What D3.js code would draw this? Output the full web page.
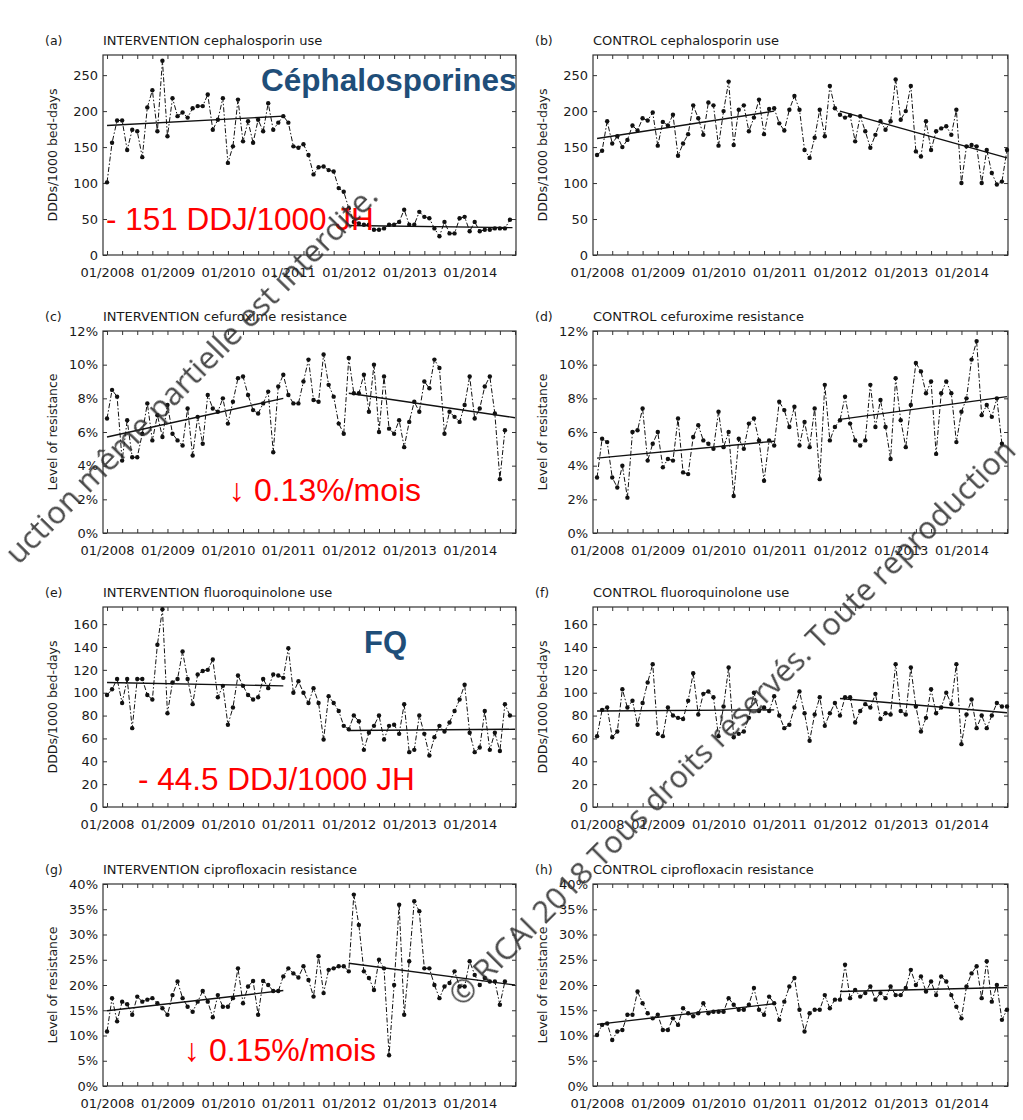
<!DOCTYPE html>
<html>
<head>
<meta charset="utf-8">
<script src="https://cdn.jsdelivr.net/npm/d3@7"></script>
<style>
  body { margin: 0; background: #fff; }
  text { font-family: "DejaVu Sans", sans-serif; fill: #1a1a1a; }
</style>
</head>
<body>
<svg id="chart" width="1023" height="1120"></svg>
<script>
// x axis: one point per month from 01/2008, labels at each January
var yearLabels = ["01/2008", "01/2009", "01/2010", "01/2011", "01/2012", "01/2013", "01/2014"];

var useTicks = [0, 50, 100, 150, 200, 250];
var cefTicks = [0, 2, 4, 6, 8, 10, 12];
var fqTicks = [0, 20, 40, 60, 80, 100, 120, 140, 160];
var ciproTicks = [0, 5, 10, 15, 20, 25, 30, 35, 40];

// monthly values
var interCephUse = [101, 156, 187, 187, 146, 174, 172, 136, 205, 229, 172, 270, 165, 218, 193, 198, 191, 204, 207, 207,
    223, 174, 188, 218, 128, 151, 216, 158, 186, 156, 188, 172, 211, 174, 184, 193, 184, 151, 149, 154,
    139, 112, 122, 123, 118, 116, 93, 88, 65, 46, 44, 42, 42, 35, 35, 37, 42, 42, 46, 63,
    42, 42, 60, 53, 51, 37, 26, 46, 30, 30, 51, 53, 33, 46, 33, 35, 35, 37, 37, 37, 49];
var ctrlCephUse = [139, 145, 186, 155, 165, 150, 160, 180, 173, 190, 187, 198, 152, 185, 180, 195, 138, 155, 168, 208,
    190, 167, 212, 208, 152, 200, 241, 153, 202, 208, 172, 191, 216, 168, 203, 204, 183, 173, 202, 221,
    202, 146, 135, 163, 202, 165, 235, 204, 195, 191, 194, 158, 193, 172, 149, 167, 186, 174, 186, 244,
    188, 200, 235, 144, 137, 186, 146, 172, 176, 179, 167, 202, 100, 151, 153, 151, 100, 146, 114, 98, 102, 146];
var interCefRes = [6.8, 8.5, 8.1, 4.3, 6.7, 4.5, 4.5, 5.9, 7.7, 5.5, 7.0, 5.7, 7.6, 5.9, 5.5, 5.2, 7.4, 4.6, 6.9, 5.3,
    8.2, 7.4, 7.2, 8.0, 6.5, 7.8, 9.2, 9.3, 8.2, 7.3, 7.1, 7.7, 8.4, 4.8, 8.7, 9.4, 8.2, 7.7, 7.7, 9.0,
    10.3, 7.9, 7.8, 10.6, 8.8, 8.1, 6.5, 5.9, 10.4, 8.3, 8.3, 9.4, 7.2, 10.0, 6.0, 9.3, 6.2, 5.9, 6.7, 5.1,
    6.6, 7.8, 7.2, 9.0, 8.6, 10.3, 9.8, 5.9, 7.2, 6.9, 6.6, 7.6, 9.3, 6.8, 7.4, 8.7, 9.3, 7.1, 3.2, 6.1];
var ctrlCefRes = [3.3, 5.6, 5.4, 3.3, 2.7, 4.0, 2.1, 6.0, 6.1, 7.4, 4.3, 5.3, 6.0, 3.9, 4.4, 4.3, 6.8, 3.6, 3.5, 5.7,
    6.4, 5.5, 5.3, 5.0, 7.2, 5.1, 6.0, 2.2, 5.6, 5.0, 6.5, 6.8, 5.5, 3.1, 5.5, 5.2, 7.8, 7.3, 6.3, 7.5,
    5.2, 6.6, 5.1, 7.4, 3.2, 8.8, 5.5, 6.3, 6.7, 8.1, 6.5, 5.5, 5.2, 5.5, 8.8, 6.3, 7.9, 6.3, 4.4, 9.2,
    6.7, 5.1, 7.6, 10.1, 9.6, 8.3, 9.0, 4.7, 8.3, 9.0, 8.3, 5.4, 7.2, 8.0, 10.3, 11.4, 7.0, 7.6, 6.9, 8.0, 5.3];
var interFqUse = [98, 103, 112, 91, 112, 69, 112, 112, 98, 94, 142, 173, 82, 109, 112, 136, 112, 90, 116, 119,
    120, 129, 96, 106, 72, 87, 115, 106, 98, 94, 96, 112, 104, 116, 115, 113, 139, 100, 110, 100,
    91, 104, 91, 59, 97, 91, 84, 71, 68, 80, 75, 50, 65, 71, 80, 59, 71, 72, 64, 90,
    48, 50, 80, 64, 45, 61, 71, 66, 74, 84, 94, 107, 65, 48, 52, 84, 50, 65, 49, 90, 80];
var ctrlFqUse = [62, 85, 87, 61, 66, 103, 87, 93, 72, 91, 109, 125, 64, 62, 87, 80, 78, 77, 93, 117,
    81, 99, 101, 96, 62, 88, 122, 61, 64, 66, 78, 100, 84, 87, 84, 97, 80, 69, 72, 87,
    101, 82, 58, 81, 96, 71, 82, 91, 80, 96, 96, 74, 84, 90, 87, 99, 77, 82, 81, 125,
    84, 81, 122, 88, 66, 78, 103, 82, 87, 100, 90, 125, 55, 81, 94, 69, 80, 69, 80, 91, 88, 88];
var interCiproRes = [10.8, 17.4, 12.8, 16.7, 16.2, 14.1, 17.7, 16.7, 17.1, 17.4, 16.4, 15.4, 14.1, 18.0, 20.7, 17.4, 15.7, 14.7, 16.7, 18.8,
    16.7, 13.6, 18.0, 15.7, 15.7, 17.4, 23.3, 16.4, 19.7, 20.8, 14.1, 20.8, 20.0, 18.8, 18.8, 21.7, 23.3, 22.3, 21.5, 23.7,
    21.0, 17.7, 25.7, 18.4, 23.0, 23.3, 23.7, 23.7, 22.7, 37.9, 31.9, 22.7, 21.4, 19.0, 25.0, 23.3, 6.1, 20.0, 35.9, 14.1,
    24.7, 36.6, 34.6, 23.3, 23.3, 20.0, 17.4, 19.7, 20.4, 22.7, 19.7, 19.7, 24.7, 22.0, 20.0, 21.4, 20.7, 20.7, 16.1, 20.7];
var ctrlCiproRes = [10.1, 12.1, 12.4, 9.1, 10.8, 11.1, 14.1, 14.1, 18.7, 16.4, 14.4, 13.4, 14.1, 11.1, 11.1, 13.4, 12.1, 15.4, 14.4, 13.8,
    14.4, 16.4, 14.4, 14.7, 14.7, 14.7, 17.4, 16.1, 15.1, 15.1, 16.1, 19.4, 15.1, 14.1, 17.7, 16.4, 13.1, 16.7, 19.7, 21.4,
    15.1, 10.8, 14.4, 15.1, 15.1, 18.0, 15.4, 17.1, 17.1, 24.0, 17.4, 19.0, 17.7, 18.4, 19.7, 17.1, 18.4, 17.4, 19.7, 18.0,
    18.0, 19.4, 23.0, 20.0, 21.7, 18.7, 20.7, 18.0, 21.7, 20.7, 18.0, 15.7, 13.4, 19.7, 22.3, 23.7, 17.4, 24.7, 16.7, 20.0, 13.1, 15.1];

// segmented regression lines: [month, value] pairs
var interCephTrend = [[[0, 180], [35, 193]], [[48, 41], [80.5, 38]]];
var ctrlCephTrend = [[[0, 162], [35, 200]], [[48, 200], [81, 135]]];
var interCefTrend = [[[0, 5.7], [35, 8.0]], [[48, 8.3], [81, 6.85]]];
var ctrlCefTrend = [[[0, 4.45], [35, 5.45]], [[48, 6.75], [81, 8.1]]];
var interFqTrend = [[[0, 109], [35, 106]], [[48, 67], [81, 68]]];
var ctrlFqTrend = [[[0, 84], [35, 85]], [[48, 95], [81, 82.5]]];
var interCiproTrend = [[[0, 14.9], [35, 18.9]], [[48, 24.3], [81, 20.0]]];
var ctrlCiproTrend = [[[0, 12.2], [35, 16.3]], [[48, 18.7], [81, 19.5]]];

var pct = function (d) { return d + "%"; };
var plain = function (d) { return d; };

var panels = [
    { tag: "(a)", title: "INTERVENTION cephalosporin use", values: interCephUse, trend: interCephTrend, yMax: 278, ticks: useTicks, fmt: plain, yLabel: "DDDs/1000 bed-days", row: 0, col: 0 },
    { tag: "(b)", title: "CONTROL cephalosporin use", values: ctrlCephUse, trend: ctrlCephTrend, yMax: 278, ticks: useTicks, fmt: plain, yLabel: "DDDs/1000 bed-days", row: 0, col: 1 },
    { tag: "(c)", title: "INTERVENTION cefuroxime resistance", values: interCefRes, trend: interCefTrend, yMax: 12, ticks: cefTicks, fmt: pct, yLabel: "Level of resistance", row: 1, col: 0 },
    { tag: "(d)", title: "CONTROL cefuroxime resistance", values: ctrlCefRes, trend: ctrlCefTrend, yMax: 12, ticks: cefTicks, fmt: pct, yLabel: "Level of resistance", row: 1, col: 1 },
    { tag: "(e)", title: "INTERVENTION fluoroquinolone use", values: interFqUse, trend: interFqTrend, yMax: 175, ticks: fqTicks, fmt: plain, yLabel: "DDDs/1000 bed-days", row: 2, col: 0 },
    { tag: "(f)", title: "CONTROL fluoroquinolone use", values: ctrlFqUse, trend: ctrlFqTrend, yMax: 175, ticks: fqTicks, fmt: plain, yLabel: "DDDs/1000 bed-days", row: 2, col: 1 },
    { tag: "(g)", title: "INTERVENTION ciprofloxacin resistance", values: interCiproRes, trend: interCiproTrend, yMax: 40, ticks: ciproTicks, fmt: pct, yLabel: "Level of resistance", row: 3, col: 0 },
    { tag: "(h)", title: "CONTROL ciprofloxacin resistance", values: ctrlCiproRes, trend: ctrlCiproTrend, yMax: 40, ticks: ciproTicks, fmt: pct, yLabel: "Level of resistance", row: 3, col: 1 }
];

var notes = [
    { text: "Céphalosporines", x: 261, y: 91, size: 31.5, weight: "bold", color: "#1f4e79" },
    { text: "- 151 DDJ/1000 JH", x: 106, y: 230, size: 31.5, weight: "normal", color: "#ff0000" },
    { text: "↓ 0.13%/mois", x: 229, y: 501, size: 32, weight: "normal", color: "#ff0000" },
    { text: "FQ", x: 364, y: 653, size: 31, weight: "bold", color: "#1f4e79" },
    { text: "- 44.5 DDJ/1000 JH", x: 138, y: 790, size: 31.5, weight: "normal", color: "#ff0000" },
    { text: "↓ 0.15%/mois", x: 184, y: 1061, size: 32, weight: "normal", color: "#ff0000" }
];

var svg = d3.select("#chart");
var colLeft = [103, 593], colWidth = [413, 415];
var rowTop = [55, 331, 607, 884], rowHeight = [200, 202, 200, 202];
var monthDomain = [-0.8, 81.2];
var quarters = d3.range(0, 82, 3);

panels.forEach(drawPanel);

function drawPanel(p) {
    var w = colWidth[p.col], h = rowHeight[p.row];
    var g = svg.append("g")
        .attr("transform", "translate(" + colLeft[p.col] + "," + rowTop[p.row] + ")");

    var x = d3.scaleLinear().domain(monthDomain).range([0, w]);
    var y = d3.scaleLinear().domain([0, p.yMax]).range([h, 0]);

    // ticks point inward on all four sides
    g.append("g")
        .attr("transform", "translate(0," + h + ")")
        .call(d3.axisBottom(x).tickValues(quarters).tickSizeInner(-4).tickSizeOuter(0).tickPadding(13)
            .tickFormat(function (m) { return m % 12 === 0 ? yearLabels[m / 12] : ""; }));
    g.append("g")
        .call(d3.axisTop(x).tickValues(quarters).tickSizeInner(-4).tickSizeOuter(0).tickFormat(""));
    g.append("g")
        .call(d3.axisLeft(y).tickValues(p.ticks).tickSizeInner(-4).tickSizeOuter(0).tickPadding(5).tickFormat(p.fmt));
    g.append("g")
        .attr("transform", "translate(" + w + ",0)")
        .call(d3.axisRight(y).tickValues(p.ticks).tickSizeInner(-4).tickSizeOuter(0).tickFormat(""));

    g.selectAll(".domain").remove();
    g.selectAll(".tick line").attr("stroke", "#333");
    g.selectAll(".tick text")
        .attr("font-family", "DejaVu Sans, sans-serif")
        .attr("font-size", 13)
        .attr("fill", "#1a1a1a");

    g.append("rect")
        .attr("width", w)
        .attr("height", h)
        .attr("fill", "none")
        .attr("stroke", "#333")
        .attr("stroke-width", 1.2);

    // monthly series
    var line = d3.line()
        .x(function (d, i) { return x(i); })
        .y(function (d) { return y(d); });
    g.append("path")
        .datum(p.values)
        .attr("d", line)
        .attr("fill", "none")
        .attr("stroke", "#111")
        .attr("stroke-width", 1)
        .attr("stroke-dasharray", "5,2,1.5,2");
    g.selectAll("circle.pt")
        .data(p.values)
        .enter()
        .append("circle")
        .attr("class", "pt")
        .attr("cx", function (d, i) { return x(i); })
        .attr("cy", function (d) { return y(d); })
        .attr("r", 2.2)
        .attr("fill", "#111");

    // trend segments
    var trendLine = d3.line()
        .x(function (d) { return x(d[0]); })
        .y(function (d) { return y(d[1]); });
    g.selectAll("path.trend")
        .data(p.trend)
        .enter()
        .append("path")
        .attr("class", "trend")
        .attr("d", trendLine)
        .attr("fill", "none")
        .attr("stroke", "#111")
        .attr("stroke-width", 1.4);

    // labels
    g.append("text")
        .attr("x", -58)
        .attr("y", -10)
        .attr("font-size", 12.5)
        .text(p.tag);
    g.append("text")
        .attr("x", 0)
        .attr("y", -10)
        .attr("font-size", 13)
        .text(p.title);
    g.append("text")
        .attr("transform", "translate(-46," + (h / 2) + ") rotate(-90)")
        .attr("text-anchor", "middle")
        .attr("font-size", 12.5)
        .text(p.yLabel);
}

svg.selectAll("text.note")
    .data(notes)
    .enter()
    .append("text")
    .attr("class", "note")
    .attr("x", function (d) { return d.x; })
    .attr("y", function (d) { return d.y; })
    .attr("font-size", function (d) { return d.size; })
    .attr("font-weight", function (d) { return d.weight; })
    .style("font-family", "Liberation Sans, Arial, sans-serif")
    .style("fill", function (d) { return d.color; })
    .text(function (d) { return d.text; });

// copyright watermark across the figure
var mark = svg.append("g").attr("opacity", 0.85);
mark.append("text")
    .attr("transform", "translate(380,198) rotate(-45.5)")
    .attr("text-anchor", "end")
    .attr("font-size", 31.5)
    .style("font-family", "Open Sans, sans-serif")
    .style("fill", "#2a2a2a")
    .text("uction même partielle est interdite.");
mark.append("text")
    .attr("transform", "translate(462,1008) rotate(-45)")
    .attr("font-size", 31)
    .style("font-family", "Open Sans, sans-serif")
    .style("fill", "#2a2a2a")
    .text("© RICAI 2018 Tous droits réservés. Toute reproduction");
</script>
</body>
</html>
